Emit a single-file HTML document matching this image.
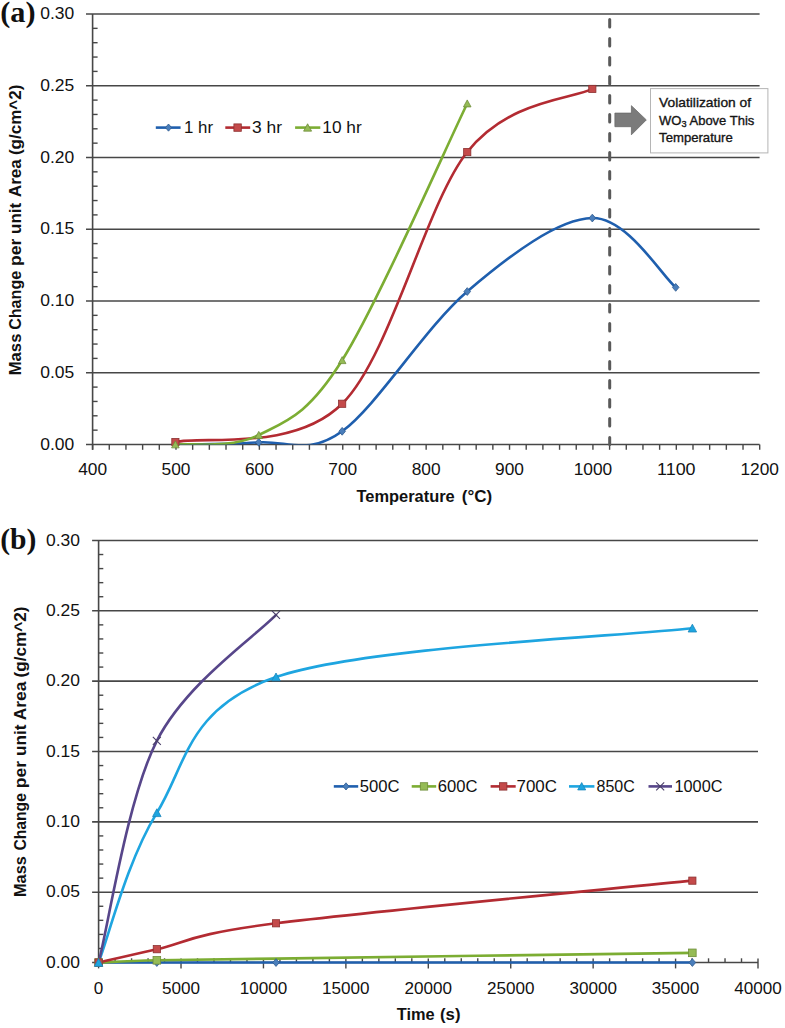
<!DOCTYPE html>
<html><head><meta charset="utf-8"><style>
html,body{margin:0;padding:0;background:#fff;width:785px;height:1028px;overflow:hidden}
svg{display:block}
text{fill:#111}
</style></head><body>
<svg width="785" height="1028" viewBox="0 0 785 1028">
<rect width="785" height="1028" fill="#fff"/>
<line x1="86" y1="372.75" x2="759.6" y2="372.75" stroke="#474747" stroke-width="1.6"/>
<line x1="86" y1="301" x2="759.6" y2="301" stroke="#474747" stroke-width="1.6"/>
<line x1="86" y1="229.25" x2="759.6" y2="229.25" stroke="#474747" stroke-width="1.6"/>
<line x1="86" y1="157.5" x2="759.6" y2="157.5" stroke="#474747" stroke-width="1.6"/>
<line x1="86" y1="85.75" x2="759.6" y2="85.75" stroke="#474747" stroke-width="1.6"/>
<line x1="86" y1="14" x2="759.6" y2="14" stroke="#474747" stroke-width="1.6"/>
<line x1="92.6" y1="14" x2="92.6" y2="449.8" stroke="#474747" stroke-width="1.6"/>
<line x1="92.6" y1="430.15" x2="97.6" y2="430.15" stroke="#474747" stroke-width="1.4"/>
<line x1="92.6" y1="415.8" x2="97.6" y2="415.8" stroke="#474747" stroke-width="1.4"/>
<line x1="92.6" y1="401.45" x2="97.6" y2="401.45" stroke="#474747" stroke-width="1.4"/>
<line x1="92.6" y1="387.1" x2="97.6" y2="387.1" stroke="#474747" stroke-width="1.4"/>
<line x1="92.6" y1="358.4" x2="97.6" y2="358.4" stroke="#474747" stroke-width="1.4"/>
<line x1="92.6" y1="344.05" x2="97.6" y2="344.05" stroke="#474747" stroke-width="1.4"/>
<line x1="92.6" y1="329.7" x2="97.6" y2="329.7" stroke="#474747" stroke-width="1.4"/>
<line x1="92.6" y1="315.35" x2="97.6" y2="315.35" stroke="#474747" stroke-width="1.4"/>
<line x1="92.6" y1="286.65" x2="97.6" y2="286.65" stroke="#474747" stroke-width="1.4"/>
<line x1="92.6" y1="272.3" x2="97.6" y2="272.3" stroke="#474747" stroke-width="1.4"/>
<line x1="92.6" y1="257.95" x2="97.6" y2="257.95" stroke="#474747" stroke-width="1.4"/>
<line x1="92.6" y1="243.6" x2="97.6" y2="243.6" stroke="#474747" stroke-width="1.4"/>
<line x1="92.6" y1="214.9" x2="97.6" y2="214.9" stroke="#474747" stroke-width="1.4"/>
<line x1="92.6" y1="200.55" x2="97.6" y2="200.55" stroke="#474747" stroke-width="1.4"/>
<line x1="92.6" y1="186.2" x2="97.6" y2="186.2" stroke="#474747" stroke-width="1.4"/>
<line x1="92.6" y1="171.85" x2="97.6" y2="171.85" stroke="#474747" stroke-width="1.4"/>
<line x1="92.6" y1="143.15" x2="97.6" y2="143.15" stroke="#474747" stroke-width="1.4"/>
<line x1="92.6" y1="128.8" x2="97.6" y2="128.8" stroke="#474747" stroke-width="1.4"/>
<line x1="92.6" y1="114.45" x2="97.6" y2="114.45" stroke="#474747" stroke-width="1.4"/>
<line x1="92.6" y1="100.1" x2="97.6" y2="100.1" stroke="#474747" stroke-width="1.4"/>
<line x1="92.6" y1="71.4" x2="97.6" y2="71.4" stroke="#474747" stroke-width="1.4"/>
<line x1="92.6" y1="57.05" x2="97.6" y2="57.05" stroke="#474747" stroke-width="1.4"/>
<line x1="92.6" y1="42.7" x2="97.6" y2="42.7" stroke="#474747" stroke-width="1.4"/>
<line x1="92.6" y1="28.35" x2="97.6" y2="28.35" stroke="#474747" stroke-width="1.4"/>
<line x1="92.6" y1="444.5" x2="92.6" y2="449.8" stroke="#474747" stroke-width="1.4"/>
<line x1="109.28" y1="444.5" x2="109.28" y2="449.8" stroke="#474747" stroke-width="1.4"/>
<line x1="125.95" y1="444.5" x2="125.95" y2="449.8" stroke="#474747" stroke-width="1.4"/>
<line x1="142.63" y1="444.5" x2="142.63" y2="449.8" stroke="#474747" stroke-width="1.4"/>
<line x1="159.31" y1="444.5" x2="159.31" y2="449.8" stroke="#474747" stroke-width="1.4"/>
<line x1="175.99" y1="444.5" x2="175.99" y2="449.8" stroke="#474747" stroke-width="1.4"/>
<line x1="192.66" y1="444.5" x2="192.66" y2="449.8" stroke="#474747" stroke-width="1.4"/>
<line x1="209.34" y1="444.5" x2="209.34" y2="449.8" stroke="#474747" stroke-width="1.4"/>
<line x1="226.02" y1="444.5" x2="226.02" y2="449.8" stroke="#474747" stroke-width="1.4"/>
<line x1="242.7" y1="444.5" x2="242.7" y2="449.8" stroke="#474747" stroke-width="1.4"/>
<line x1="259.37" y1="444.5" x2="259.37" y2="449.8" stroke="#474747" stroke-width="1.4"/>
<line x1="276.05" y1="444.5" x2="276.05" y2="449.8" stroke="#474747" stroke-width="1.4"/>
<line x1="292.73" y1="444.5" x2="292.73" y2="449.8" stroke="#474747" stroke-width="1.4"/>
<line x1="309.41" y1="444.5" x2="309.41" y2="449.8" stroke="#474747" stroke-width="1.4"/>
<line x1="326.08" y1="444.5" x2="326.08" y2="449.8" stroke="#474747" stroke-width="1.4"/>
<line x1="342.76" y1="444.5" x2="342.76" y2="449.8" stroke="#474747" stroke-width="1.4"/>
<line x1="359.44" y1="444.5" x2="359.44" y2="449.8" stroke="#474747" stroke-width="1.4"/>
<line x1="376.12" y1="444.5" x2="376.12" y2="449.8" stroke="#474747" stroke-width="1.4"/>
<line x1="392.79" y1="444.5" x2="392.79" y2="449.8" stroke="#474747" stroke-width="1.4"/>
<line x1="409.47" y1="444.5" x2="409.47" y2="449.8" stroke="#474747" stroke-width="1.4"/>
<line x1="426.15" y1="444.5" x2="426.15" y2="449.8" stroke="#474747" stroke-width="1.4"/>
<line x1="442.83" y1="444.5" x2="442.83" y2="449.8" stroke="#474747" stroke-width="1.4"/>
<line x1="459.5" y1="444.5" x2="459.5" y2="449.8" stroke="#474747" stroke-width="1.4"/>
<line x1="476.18" y1="444.5" x2="476.18" y2="449.8" stroke="#474747" stroke-width="1.4"/>
<line x1="492.86" y1="444.5" x2="492.86" y2="449.8" stroke="#474747" stroke-width="1.4"/>
<line x1="509.53" y1="444.5" x2="509.53" y2="449.8" stroke="#474747" stroke-width="1.4"/>
<line x1="526.21" y1="444.5" x2="526.21" y2="449.8" stroke="#474747" stroke-width="1.4"/>
<line x1="542.89" y1="444.5" x2="542.89" y2="449.8" stroke="#474747" stroke-width="1.4"/>
<line x1="559.57" y1="444.5" x2="559.57" y2="449.8" stroke="#474747" stroke-width="1.4"/>
<line x1="576.24" y1="444.5" x2="576.24" y2="449.8" stroke="#474747" stroke-width="1.4"/>
<line x1="592.92" y1="444.5" x2="592.92" y2="449.8" stroke="#474747" stroke-width="1.4"/>
<line x1="609.6" y1="444.5" x2="609.6" y2="449.8" stroke="#474747" stroke-width="1.4"/>
<line x1="626.28" y1="444.5" x2="626.28" y2="449.8" stroke="#474747" stroke-width="1.4"/>
<line x1="642.95" y1="444.5" x2="642.95" y2="449.8" stroke="#474747" stroke-width="1.4"/>
<line x1="659.63" y1="444.5" x2="659.63" y2="449.8" stroke="#474747" stroke-width="1.4"/>
<line x1="676.31" y1="444.5" x2="676.31" y2="449.8" stroke="#474747" stroke-width="1.4"/>
<line x1="692.99" y1="444.5" x2="692.99" y2="449.8" stroke="#474747" stroke-width="1.4"/>
<line x1="709.66" y1="444.5" x2="709.66" y2="449.8" stroke="#474747" stroke-width="1.4"/>
<line x1="726.34" y1="444.5" x2="726.34" y2="449.8" stroke="#474747" stroke-width="1.4"/>
<line x1="743.02" y1="444.5" x2="743.02" y2="449.8" stroke="#474747" stroke-width="1.4"/>
<line x1="759.7" y1="444.5" x2="759.7" y2="449.8" stroke="#474747" stroke-width="1.4"/>
<line x1="86" y1="444.5" x2="759.6" y2="444.5" stroke="#474747" stroke-width="1.6"/>
<line x1="609.7" y1="19.6" x2="609.7" y2="444.5" stroke="#595959" stroke-width="3" stroke-dasharray="7.5 11.5" stroke-linecap="round"/>
<clipPath id="ca"><rect x="92.6" y="0" width="680" height="444.5"/></clipPath>
<g clip-path="url(#ca)" fill="none" stroke-width="2.6" stroke-linejoin="round" stroke-linecap="round">
<path d="M175.39,444.5 C189.28,444.14 230.98,444.55 258.77,442.35 C286.57,440.15 307.42,456.43 342.16,431.3 C376.91,406.16 425.55,327.07 467.24,291.53 C508.94,255.99 557.58,218.75 592.32,218.06 C627.07,217.36 661.81,275.82 675.71,287.37" stroke="#1f5fae"/>
<path d="M175.39,442.06 C203.18,435.67 293.52,452.08 342.16,403.75 C390.8,355.41 425.55,204.52 467.24,152.05 C508.94,99.57 571.48,99.43 592.32,88.91" stroke="#b32b32"/>
<path d="M175.39,444.5 C189.28,442.92 230.98,449.07 258.77,435.03 C286.57,420.99 307.42,415.51 342.16,360.27 C376.91,305.02 446.39,146.33 467.24,103.54" stroke="#7cad33"/>
</g>
<path d="M258.77,438.45 L262.09,442.35 L258.77,446.25 L255.46,442.35 Z" fill="#4a7ebb" stroke="#2f5a8e" stroke-width="0.8"/>
<path d="M342.16,427.4 L345.48,431.3 L342.16,435.2 L338.85,431.3 Z" fill="#4a7ebb" stroke="#2f5a8e" stroke-width="0.8"/>
<path d="M467.24,287.63 L470.56,291.53 L467.24,295.43 L463.93,291.53 Z" fill="#4a7ebb" stroke="#2f5a8e" stroke-width="0.8"/>
<path d="M592.32,214.16 L595.64,218.06 L592.32,221.96 L589.01,218.06 Z" fill="#4a7ebb" stroke="#2f5a8e" stroke-width="0.8"/>
<path d="M675.71,283.47 L679.02,287.37 L675.71,291.27 L672.39,287.37 Z" fill="#4a7ebb" stroke="#2f5a8e" stroke-width="0.8"/>
<rect x="171.79" y="438.46" width="7.2" height="7.2" fill="#c44a4a" stroke="#8c3030" stroke-width="0.8"/>
<rect x="338.56" y="400.15" width="7.2" height="7.2" fill="#c44a4a" stroke="#8c3030" stroke-width="0.8"/>
<rect x="463.64" y="148.45" width="7.2" height="7.2" fill="#c44a4a" stroke="#8c3030" stroke-width="0.8"/>
<rect x="588.72" y="85.31" width="7.2" height="7.2" fill="#c44a4a" stroke="#8c3030" stroke-width="0.8"/>
<path d="M175.39,440.86 L179.19,447.86 L171.59,447.86 Z" fill="#95bb56" stroke="#6f8d3a" stroke-width="0.8"/>
<path d="M258.77,431.39 L262.57,438.39 L254.97,438.39 Z" fill="#95bb56" stroke="#6f8d3a" stroke-width="0.8"/>
<path d="M342.16,356.63 L345.96,363.62 L338.36,363.62 Z" fill="#95bb56" stroke="#6f8d3a" stroke-width="0.8"/>
<path d="M467.24,99.91 L471.04,106.9 L463.44,106.9 Z" fill="#95bb56" stroke="#6f8d3a" stroke-width="0.8"/>
<line x1="155.8" y1="127.6" x2="180.6" y2="127.6" stroke="#1f5fae" stroke-width="2.6"/>
<path d="M168.5,124 L171.56,127.6 L168.5,131.2 L165.44,127.6 Z" fill="#4a7ebb" stroke="#2f5a8e" stroke-width="0.8"/>
<line x1="225.3" y1="127.6" x2="250.2" y2="127.6" stroke="#b32b32" stroke-width="2.6"/>
<rect x="233.9" y="123.9" width="7.4" height="7.4" fill="#c44a4a" stroke="#8c3030" stroke-width="0.8"/>
<line x1="295.1" y1="127.6" x2="320.3" y2="127.6" stroke="#7cad33" stroke-width="2.6"/>
<path d="M307.6,123.77 L311.6,131.13 L303.6,131.13 Z" fill="#95bb56" stroke="#6f8d3a" stroke-width="0.8"/>
<line x1="92.1" y1="892.2" x2="758" y2="892.2" stroke="#474747" stroke-width="1.6"/>
<line x1="92.1" y1="821.85" x2="758" y2="821.85" stroke="#474747" stroke-width="1.6"/>
<line x1="92.1" y1="751.5" x2="758" y2="751.5" stroke="#474747" stroke-width="1.6"/>
<line x1="92.1" y1="681.15" x2="758" y2="681.15" stroke="#474747" stroke-width="1.6"/>
<line x1="92.1" y1="610.8" x2="758" y2="610.8" stroke="#474747" stroke-width="1.6"/>
<line x1="92.1" y1="540.45" x2="758" y2="540.45" stroke="#474747" stroke-width="1.6"/>
<line x1="98.6" y1="540.45" x2="98.6" y2="962.55" stroke="#474747" stroke-width="1.6"/>
<line x1="98.6" y1="948.48" x2="103.3" y2="948.48" stroke="#474747" stroke-width="1.4"/>
<line x1="98.6" y1="934.41" x2="103.3" y2="934.41" stroke="#474747" stroke-width="1.4"/>
<line x1="98.6" y1="920.34" x2="103.3" y2="920.34" stroke="#474747" stroke-width="1.4"/>
<line x1="98.6" y1="906.27" x2="103.3" y2="906.27" stroke="#474747" stroke-width="1.4"/>
<line x1="98.6" y1="878.13" x2="103.3" y2="878.13" stroke="#474747" stroke-width="1.4"/>
<line x1="98.6" y1="864.06" x2="103.3" y2="864.06" stroke="#474747" stroke-width="1.4"/>
<line x1="98.6" y1="849.99" x2="103.3" y2="849.99" stroke="#474747" stroke-width="1.4"/>
<line x1="98.6" y1="835.92" x2="103.3" y2="835.92" stroke="#474747" stroke-width="1.4"/>
<line x1="98.6" y1="807.78" x2="103.3" y2="807.78" stroke="#474747" stroke-width="1.4"/>
<line x1="98.6" y1="793.71" x2="103.3" y2="793.71" stroke="#474747" stroke-width="1.4"/>
<line x1="98.6" y1="779.64" x2="103.3" y2="779.64" stroke="#474747" stroke-width="1.4"/>
<line x1="98.6" y1="765.57" x2="103.3" y2="765.57" stroke="#474747" stroke-width="1.4"/>
<line x1="98.6" y1="737.43" x2="103.3" y2="737.43" stroke="#474747" stroke-width="1.4"/>
<line x1="98.6" y1="723.36" x2="103.3" y2="723.36" stroke="#474747" stroke-width="1.4"/>
<line x1="98.6" y1="709.29" x2="103.3" y2="709.29" stroke="#474747" stroke-width="1.4"/>
<line x1="98.6" y1="695.22" x2="103.3" y2="695.22" stroke="#474747" stroke-width="1.4"/>
<line x1="98.6" y1="667.08" x2="103.3" y2="667.08" stroke="#474747" stroke-width="1.4"/>
<line x1="98.6" y1="653.01" x2="103.3" y2="653.01" stroke="#474747" stroke-width="1.4"/>
<line x1="98.6" y1="638.94" x2="103.3" y2="638.94" stroke="#474747" stroke-width="1.4"/>
<line x1="98.6" y1="624.87" x2="103.3" y2="624.87" stroke="#474747" stroke-width="1.4"/>
<line x1="98.6" y1="596.73" x2="103.3" y2="596.73" stroke="#474747" stroke-width="1.4"/>
<line x1="98.6" y1="582.66" x2="103.3" y2="582.66" stroke="#474747" stroke-width="1.4"/>
<line x1="98.6" y1="568.59" x2="103.3" y2="568.59" stroke="#474747" stroke-width="1.4"/>
<line x1="98.6" y1="554.52" x2="103.3" y2="554.52" stroke="#474747" stroke-width="1.4"/>
<line x1="98.6" y1="958.6" x2="98.6" y2="968.4" stroke="#474747" stroke-width="1.4"/>
<line x1="115.08" y1="958.3" x2="115.08" y2="962.55" stroke="#474747" stroke-width="1.4"/>
<line x1="131.57" y1="958.3" x2="131.57" y2="962.55" stroke="#474747" stroke-width="1.4"/>
<line x1="148.06" y1="958.3" x2="148.06" y2="962.55" stroke="#474747" stroke-width="1.4"/>
<line x1="164.54" y1="958.3" x2="164.54" y2="962.55" stroke="#474747" stroke-width="1.4"/>
<line x1="181.02" y1="958.6" x2="181.02" y2="968.4" stroke="#474747" stroke-width="1.4"/>
<line x1="197.51" y1="958.3" x2="197.51" y2="962.55" stroke="#474747" stroke-width="1.4"/>
<line x1="214" y1="958.3" x2="214" y2="962.55" stroke="#474747" stroke-width="1.4"/>
<line x1="230.48" y1="958.3" x2="230.48" y2="962.55" stroke="#474747" stroke-width="1.4"/>
<line x1="246.97" y1="958.3" x2="246.97" y2="962.55" stroke="#474747" stroke-width="1.4"/>
<line x1="263.45" y1="958.6" x2="263.45" y2="968.4" stroke="#474747" stroke-width="1.4"/>
<line x1="279.94" y1="958.3" x2="279.94" y2="962.55" stroke="#474747" stroke-width="1.4"/>
<line x1="296.42" y1="958.3" x2="296.42" y2="962.55" stroke="#474747" stroke-width="1.4"/>
<line x1="312.9" y1="958.3" x2="312.9" y2="962.55" stroke="#474747" stroke-width="1.4"/>
<line x1="329.39" y1="958.3" x2="329.39" y2="962.55" stroke="#474747" stroke-width="1.4"/>
<line x1="345.88" y1="958.6" x2="345.88" y2="968.4" stroke="#474747" stroke-width="1.4"/>
<line x1="362.36" y1="958.3" x2="362.36" y2="962.55" stroke="#474747" stroke-width="1.4"/>
<line x1="378.85" y1="958.3" x2="378.85" y2="962.55" stroke="#474747" stroke-width="1.4"/>
<line x1="395.33" y1="958.3" x2="395.33" y2="962.55" stroke="#474747" stroke-width="1.4"/>
<line x1="411.81" y1="958.3" x2="411.81" y2="962.55" stroke="#474747" stroke-width="1.4"/>
<line x1="428.3" y1="958.6" x2="428.3" y2="968.4" stroke="#474747" stroke-width="1.4"/>
<line x1="444.78" y1="958.3" x2="444.78" y2="962.55" stroke="#474747" stroke-width="1.4"/>
<line x1="461.27" y1="958.3" x2="461.27" y2="962.55" stroke="#474747" stroke-width="1.4"/>
<line x1="477.75" y1="958.3" x2="477.75" y2="962.55" stroke="#474747" stroke-width="1.4"/>
<line x1="494.24" y1="958.3" x2="494.24" y2="962.55" stroke="#474747" stroke-width="1.4"/>
<line x1="510.73" y1="958.6" x2="510.73" y2="968.4" stroke="#474747" stroke-width="1.4"/>
<line x1="527.21" y1="958.3" x2="527.21" y2="962.55" stroke="#474747" stroke-width="1.4"/>
<line x1="543.69" y1="958.3" x2="543.69" y2="962.55" stroke="#474747" stroke-width="1.4"/>
<line x1="560.18" y1="958.3" x2="560.18" y2="962.55" stroke="#474747" stroke-width="1.4"/>
<line x1="576.66" y1="958.3" x2="576.66" y2="962.55" stroke="#474747" stroke-width="1.4"/>
<line x1="593.15" y1="958.6" x2="593.15" y2="968.4" stroke="#474747" stroke-width="1.4"/>
<line x1="609.63" y1="958.3" x2="609.63" y2="962.55" stroke="#474747" stroke-width="1.4"/>
<line x1="626.12" y1="958.3" x2="626.12" y2="962.55" stroke="#474747" stroke-width="1.4"/>
<line x1="642.61" y1="958.3" x2="642.61" y2="962.55" stroke="#474747" stroke-width="1.4"/>
<line x1="659.09" y1="958.3" x2="659.09" y2="962.55" stroke="#474747" stroke-width="1.4"/>
<line x1="675.58" y1="958.6" x2="675.58" y2="968.4" stroke="#474747" stroke-width="1.4"/>
<line x1="692.06" y1="958.3" x2="692.06" y2="962.55" stroke="#474747" stroke-width="1.4"/>
<line x1="708.54" y1="958.3" x2="708.54" y2="962.55" stroke="#474747" stroke-width="1.4"/>
<line x1="725.03" y1="958.3" x2="725.03" y2="962.55" stroke="#474747" stroke-width="1.4"/>
<line x1="741.51" y1="958.3" x2="741.51" y2="962.55" stroke="#474747" stroke-width="1.4"/>
<line x1="758" y1="958.6" x2="758" y2="968.4" stroke="#474747" stroke-width="1.4"/>
<line x1="92.1" y1="962.55" x2="758" y2="962.55" stroke="#474747" stroke-width="1.6"/>
<g fill="none" stroke-width="2.6" stroke-linejoin="round" stroke-linecap="round">
<path d="M98.6,962.55 C108.31,962.55 127.27,962.55 156.84,962.55 C186.41,962.55 186.76,962.55 276.01,962.55 C365.26,962.55 622.97,962.55 692.36,962.55" stroke="#1f5fae"/>
<path d="M98.6,962.55 C108.31,962.17 127.27,960.96 156.84,960.3 C186.41,959.64 186.76,959.85 276.01,958.61 C365.26,957.37 622.97,953.8 692.36,952.84" stroke="#7cad33"/>
<path d="M98.6,962.55 C108.31,960.32 127.27,955.73 156.84,949.18 C186.41,942.64 186.76,934.71 276.01,923.29 C365.26,911.87 622.97,887.77 692.36,880.66" stroke="#b32b32"/>
<path d="M98.6,962.55 C108.31,937.6 127.27,860.43 156.84,812.85 C186.41,765.27 186.76,707.84 276.01,677.07 C365.26,646.3 622.97,636.38 692.36,628.25" stroke="#1ea5e0"/>
<path d="M98.6,962.55 C108.31,925.59 127.27,798.75 156.84,740.81 C186.41,682.86 256.15,635.87 276.01,614.88" stroke="#57468a"/>
</g>
<path d="M98.6,958.65 L101.91,962.55 L98.6,966.45 L95.28,962.55 Z" fill="#4a7ebb" stroke="#2f5a8e" stroke-width="0.8"/>
<path d="M156.84,958.65 L160.16,962.55 L156.84,966.45 L153.53,962.55 Z" fill="#4a7ebb" stroke="#2f5a8e" stroke-width="0.8"/>
<path d="M276.01,958.65 L279.33,962.55 L276.01,966.45 L272.7,962.55 Z" fill="#4a7ebb" stroke="#2f5a8e" stroke-width="0.8"/>
<path d="M692.36,958.65 L695.67,962.55 L692.36,966.45 L689.04,962.55 Z" fill="#4a7ebb" stroke="#2f5a8e" stroke-width="0.8"/>
<rect x="94.8" y="958.75" width="7.6" height="7.6" fill="#95bb56" stroke="#6f8d3a" stroke-width="0.8"/>
<rect x="153.04" y="956.5" width="7.6" height="7.6" fill="#95bb56" stroke="#6f8d3a" stroke-width="0.8"/>
<rect x="688.56" y="949.04" width="7.6" height="7.6" fill="#95bb56" stroke="#6f8d3a" stroke-width="0.8"/>
<rect x="95" y="958.95" width="7.2" height="7.2" fill="#c44a4a" stroke="#8c3030" stroke-width="0.8"/>
<rect x="153.24" y="945.58" width="7.2" height="7.2" fill="#c44a4a" stroke="#8c3030" stroke-width="0.8"/>
<rect x="272.41" y="919.69" width="7.2" height="7.2" fill="#c44a4a" stroke="#8c3030" stroke-width="0.8"/>
<rect x="688.76" y="877.06" width="7.2" height="7.2" fill="#c44a4a" stroke="#8c3030" stroke-width="0.8"/>
<path d="M98.6,958.48 L102.85,966.3 L94.35,966.3 Z" fill="#1ea5e0" stroke="#1a86bb" stroke-width="0.8"/>
<path d="M156.84,808.78 L161.09,816.6 L152.59,816.6 Z" fill="#1ea5e0" stroke="#1a86bb" stroke-width="0.8"/>
<path d="M276.01,673 L280.26,680.82 L271.76,680.82 Z" fill="#1ea5e0" stroke="#1a86bb" stroke-width="0.8"/>
<path d="M692.36,624.18 L696.61,632 L688.11,632 Z" fill="#1ea5e0" stroke="#1a86bb" stroke-width="0.8"/>
<path d="M152.84,736.81 L160.84,744.81 M152.84,744.81 L160.84,736.81" stroke="#4a3f68" stroke-width="1.1" fill="none"/>
<path d="M272.01,610.88 L280.01,618.88 M272.01,618.88 L280.01,610.88" stroke="#4a3f68" stroke-width="1.1" fill="none"/>
<line x1="333.8" y1="786.4" x2="358.2" y2="786.4" stroke="#1f5fae" stroke-width="2.6"/>
<path d="M346,782.8 L349.06,786.4 L346,790 L342.94,786.4 Z" fill="#4a7ebb" stroke="#2f5a8e" stroke-width="0.8"/>
<line x1="411.7" y1="786.4" x2="436.2" y2="786.4" stroke="#7cad33" stroke-width="2.6"/>
<rect x="420.3" y="782.7" width="7.4" height="7.4" fill="#95bb56" stroke="#6f8d3a" stroke-width="0.8"/>
<line x1="490.6" y1="786.4" x2="515.7" y2="786.4" stroke="#b32b32" stroke-width="2.6"/>
<rect x="499.5" y="782.7" width="7.4" height="7.4" fill="#c44a4a" stroke="#8c3030" stroke-width="0.8"/>
<line x1="569" y1="786.4" x2="594.4" y2="786.4" stroke="#1ea5e0" stroke-width="2.6"/>
<path d="M581.7,782.57 L585.7,789.93 L577.7,789.93 Z" fill="#1ea5e0" stroke="#1a86bb" stroke-width="0.8"/>
<line x1="648.5" y1="786.4" x2="672" y2="786.4" stroke="#57468a" stroke-width="2.6"/>
<path d="M656.2,782.4 L664.2,790.4 M656.2,790.4 L664.2,782.4" stroke="#4a3f68" stroke-width="1.1" fill="none"/>
<text x="74.3" y="449.7" font-family="Liberation Sans" font-size="16" font-weight="normal" text-anchor="end" textLength="34" lengthAdjust="spacingAndGlyphs">0.00</text>
<text x="74.3" y="377.95" font-family="Liberation Sans" font-size="16" font-weight="normal" text-anchor="end" textLength="34" lengthAdjust="spacingAndGlyphs">0.05</text>
<text x="74.3" y="306.2" font-family="Liberation Sans" font-size="16" font-weight="normal" text-anchor="end" textLength="34" lengthAdjust="spacingAndGlyphs">0.10</text>
<text x="74.3" y="234.45" font-family="Liberation Sans" font-size="16" font-weight="normal" text-anchor="end" textLength="34" lengthAdjust="spacingAndGlyphs">0.15</text>
<text x="74.3" y="162.7" font-family="Liberation Sans" font-size="16" font-weight="normal" text-anchor="end" textLength="34" lengthAdjust="spacingAndGlyphs">0.20</text>
<text x="74.3" y="90.95" font-family="Liberation Sans" font-size="16" font-weight="normal" text-anchor="end" textLength="34" lengthAdjust="spacingAndGlyphs">0.25</text>
<text x="74.3" y="19.2" font-family="Liberation Sans" font-size="16" font-weight="normal" text-anchor="end" textLength="34" lengthAdjust="spacingAndGlyphs">0.30</text>
<text x="92.6" y="475" font-family="Liberation Sans" font-size="16" font-weight="normal" text-anchor="middle" textLength="28.9" lengthAdjust="spacingAndGlyphs">400</text>
<text x="175.99" y="475" font-family="Liberation Sans" font-size="16" font-weight="normal" text-anchor="middle" textLength="28.9" lengthAdjust="spacingAndGlyphs">500</text>
<text x="259.37" y="475" font-family="Liberation Sans" font-size="16" font-weight="normal" text-anchor="middle" textLength="28.9" lengthAdjust="spacingAndGlyphs">600</text>
<text x="342.76" y="475" font-family="Liberation Sans" font-size="16" font-weight="normal" text-anchor="middle" textLength="28.9" lengthAdjust="spacingAndGlyphs">700</text>
<text x="426.15" y="475" font-family="Liberation Sans" font-size="16" font-weight="normal" text-anchor="middle" textLength="28.9" lengthAdjust="spacingAndGlyphs">800</text>
<text x="509.53" y="475" font-family="Liberation Sans" font-size="16" font-weight="normal" text-anchor="middle" textLength="28.9" lengthAdjust="spacingAndGlyphs">900</text>
<text x="592.92" y="475" font-family="Liberation Sans" font-size="16" font-weight="normal" text-anchor="middle" textLength="38.5" lengthAdjust="spacingAndGlyphs">1000</text>
<text x="676.31" y="475" font-family="Liberation Sans" font-size="16" font-weight="normal" text-anchor="middle" textLength="38.5" lengthAdjust="spacingAndGlyphs">1100</text>
<text x="759.7" y="475" font-family="Liberation Sans" font-size="16" font-weight="normal" text-anchor="middle" textLength="38.5" lengthAdjust="spacingAndGlyphs">1200</text>
<text x="80" y="967.75" font-family="Liberation Sans" font-size="16" font-weight="normal" text-anchor="end" textLength="34" lengthAdjust="spacingAndGlyphs">0.00</text>
<text x="80" y="897.4" font-family="Liberation Sans" font-size="16" font-weight="normal" text-anchor="end" textLength="34" lengthAdjust="spacingAndGlyphs">0.05</text>
<text x="80" y="827.05" font-family="Liberation Sans" font-size="16" font-weight="normal" text-anchor="end" textLength="34" lengthAdjust="spacingAndGlyphs">0.10</text>
<text x="80" y="756.7" font-family="Liberation Sans" font-size="16" font-weight="normal" text-anchor="end" textLength="34" lengthAdjust="spacingAndGlyphs">0.15</text>
<text x="80" y="686.35" font-family="Liberation Sans" font-size="16" font-weight="normal" text-anchor="end" textLength="34" lengthAdjust="spacingAndGlyphs">0.20</text>
<text x="80" y="616" font-family="Liberation Sans" font-size="16" font-weight="normal" text-anchor="end" textLength="34" lengthAdjust="spacingAndGlyphs">0.25</text>
<text x="80" y="545.65" font-family="Liberation Sans" font-size="16" font-weight="normal" text-anchor="end" textLength="34" lengthAdjust="spacingAndGlyphs">0.30</text>
<text x="98.6" y="993.6" font-family="Liberation Sans" font-size="16" font-weight="normal" text-anchor="middle" textLength="9.5" lengthAdjust="spacingAndGlyphs">0</text>
<text x="181.02" y="993.6" font-family="Liberation Sans" font-size="16" font-weight="normal" text-anchor="middle" textLength="38" lengthAdjust="spacingAndGlyphs">5000</text>
<text x="263.45" y="993.6" font-family="Liberation Sans" font-size="16" font-weight="normal" text-anchor="middle" textLength="47.5" lengthAdjust="spacingAndGlyphs">10000</text>
<text x="345.88" y="993.6" font-family="Liberation Sans" font-size="16" font-weight="normal" text-anchor="middle" textLength="47.5" lengthAdjust="spacingAndGlyphs">15000</text>
<text x="428.3" y="993.6" font-family="Liberation Sans" font-size="16" font-weight="normal" text-anchor="middle" textLength="47.5" lengthAdjust="spacingAndGlyphs">20000</text>
<text x="510.73" y="993.6" font-family="Liberation Sans" font-size="16" font-weight="normal" text-anchor="middle" textLength="47.5" lengthAdjust="spacingAndGlyphs">25000</text>
<text x="593.15" y="993.6" font-family="Liberation Sans" font-size="16" font-weight="normal" text-anchor="middle" textLength="47.5" lengthAdjust="spacingAndGlyphs">30000</text>
<text x="675.58" y="993.6" font-family="Liberation Sans" font-size="16" font-weight="normal" text-anchor="middle" textLength="47.5" lengthAdjust="spacingAndGlyphs">35000</text>
<text x="758" y="993.6" font-family="Liberation Sans" font-size="16" font-weight="normal" text-anchor="middle" textLength="47.5" lengthAdjust="spacingAndGlyphs">40000</text>
<text x="184" y="132.6" font-family="Liberation Sans" font-size="16" font-weight="normal" text-anchor="start" textLength="29" lengthAdjust="spacingAndGlyphs">1 hr</text>
<text x="252" y="132.6" font-family="Liberation Sans" font-size="16" font-weight="normal" text-anchor="start" textLength="30" lengthAdjust="spacingAndGlyphs">3 hr</text>
<text x="322.3" y="132.6" font-family="Liberation Sans" font-size="16" font-weight="normal" text-anchor="start" textLength="39.4" lengthAdjust="spacingAndGlyphs">10 hr</text>
<text x="359.7" y="792.1" font-family="Liberation Sans" font-size="17" font-weight="normal" text-anchor="start" textLength="39.8" lengthAdjust="spacingAndGlyphs">500C</text>
<text x="437.7" y="792.1" font-family="Liberation Sans" font-size="17" font-weight="normal" text-anchor="start" textLength="39.7" lengthAdjust="spacingAndGlyphs">600C</text>
<text x="516.5" y="792.1" font-family="Liberation Sans" font-size="17" font-weight="normal" text-anchor="start" textLength="40.5" lengthAdjust="spacingAndGlyphs">700C</text>
<text x="596.6" y="792.1" font-family="Liberation Sans" font-size="17" font-weight="normal" text-anchor="start" textLength="38.2" lengthAdjust="spacingAndGlyphs">850C</text>
<text x="674.5" y="792.1" font-family="Liberation Sans" font-size="17" font-weight="normal" text-anchor="start" textLength="48" lengthAdjust="spacingAndGlyphs">1000C</text>
<text x="356.54" y="501.6" font-family="Liberation Sans" font-size="16" font-weight="bold" textLength="98.2" lengthAdjust="spacingAndGlyphs">Temperature</text>
<text x="461.85" y="501.6" font-family="Liberation Sans" font-size="16" font-weight="bold" textLength="30.37" lengthAdjust="spacingAndGlyphs">(°C)</text>
<text x="396.74" y="1019.7" font-family="Liberation Sans" font-size="16" font-weight="bold" textLength="37.85" lengthAdjust="spacingAndGlyphs">Time</text>
<text x="440.06" y="1019.7" font-family="Liberation Sans" font-size="16" font-weight="bold" textLength="20.43" lengthAdjust="spacingAndGlyphs">(s)</text>
<text transform="translate(21.2,375.28) rotate(-90)" font-family="Liberation Sans" font-size="16.5" font-weight="bold" textLength="41.68" lengthAdjust="spacingAndGlyphs">Mass</text>
<text transform="translate(21.2,329.84) rotate(-90)" font-family="Liberation Sans" font-size="16.5" font-weight="bold" textLength="59.04" lengthAdjust="spacingAndGlyphs">Change</text>
<text transform="translate(21.2,266.04) rotate(-90)" font-family="Liberation Sans" font-size="16.5" font-weight="bold" textLength="27.33" lengthAdjust="spacingAndGlyphs">per</text>
<text transform="translate(21.2,233.92) rotate(-90)" font-family="Liberation Sans" font-size="16.5" font-weight="bold" textLength="31.03" lengthAdjust="spacingAndGlyphs">unit</text>
<text transform="translate(21.2,197.13) rotate(-90)" font-family="Liberation Sans" font-size="16.5" font-weight="bold" textLength="38.02" lengthAdjust="spacingAndGlyphs">Area</text>
<text transform="translate(21.2,155.05) rotate(-90)" font-family="Liberation Sans" font-size="16.5" font-weight="bold" textLength="70.4" lengthAdjust="spacingAndGlyphs">(g/cm^2)</text>
<text transform="translate(26.3,896.96) rotate(-90)" font-family="Liberation Sans" font-size="16.5" font-weight="bold" textLength="40.74" lengthAdjust="spacingAndGlyphs">Mass</text>
<text transform="translate(26.3,850.53) rotate(-90)" font-family="Liberation Sans" font-size="16.5" font-weight="bold" textLength="57.41" lengthAdjust="spacingAndGlyphs">Change</text>
<text transform="translate(26.3,788.24) rotate(-90)" font-family="Liberation Sans" font-size="16.5" font-weight="bold" textLength="27.22" lengthAdjust="spacingAndGlyphs">per</text>
<text transform="translate(26.3,756.03) rotate(-90)" font-family="Liberation Sans" font-size="16.5" font-weight="bold" textLength="31.45" lengthAdjust="spacingAndGlyphs">unit</text>
<text transform="translate(26.3,720.23) rotate(-90)" font-family="Liberation Sans" font-size="16.5" font-weight="bold" textLength="38.62" lengthAdjust="spacingAndGlyphs">Area</text>
<text transform="translate(26.3,677.46) rotate(-90)" font-family="Liberation Sans" font-size="16.5" font-weight="bold" textLength="71.02" lengthAdjust="spacingAndGlyphs">(g/cm^2)</text>
<text x="0.2" y="21.8" font-family="Liberation Serif" font-size="29" font-weight="bold" text-anchor="start" textLength="35.3" lengthAdjust="spacingAndGlyphs">(a)</text>
<text x="0.2" y="549.3" font-family="Liberation Serif" font-size="29" font-weight="bold" text-anchor="start" textLength="36.2" lengthAdjust="spacingAndGlyphs">(b)</text>
<path d="M614.9,113.1 L631.4,113.1 L631.4,105.7 L646.3,119.9 L631.4,134.8 L631.4,126.7 L614.9,126.7 Z" fill="#7b7b7b" stroke="#6a6a6a" stroke-width="0.8"/>
<rect x="650.5" y="88.6" width="117.4" height="64.3" fill="#fff" stroke="#b5b5b5" stroke-width="1"/>
<text x="659.1" y="106.9" font-family="Liberation Sans" font-size="12.8" font-weight="normal" text-anchor="start" textLength="92" lengthAdjust="spacingAndGlyphs" fill="#1a1a1a" stroke="#1a1a1a" stroke-width="0.35">Volatilization of</text>
<text x="659.1" y="124.7" font-family="Liberation Sans" font-size="12.8" fill="#1a1a1a" stroke="#1a1a1a" stroke-width="0.35" textLength="95.2" lengthAdjust="spacingAndGlyphs">WO<tspan font-size="9" dy="2.5">3</tspan><tspan dy="-2.5"> Above This</tspan></text>
<text x="659.1" y="141.6" font-family="Liberation Sans" font-size="12.8" font-weight="normal" text-anchor="start" textLength="73.7" lengthAdjust="spacingAndGlyphs" fill="#1a1a1a" stroke="#1a1a1a" stroke-width="0.35">Temperature</text>
</svg>
</body></html>
